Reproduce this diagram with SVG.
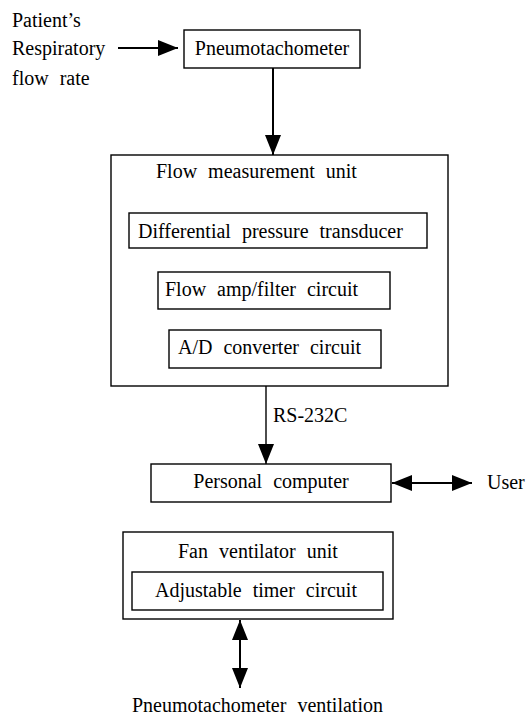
<svg xmlns="http://www.w3.org/2000/svg" width="528" height="719" viewBox="0 0 528 719">
<defs>
<style>
text{font-family:"Liberation Serif","Times New Roman",serif;font-size:20px;fill:#000;word-spacing:6px}
.box{fill:#fff;stroke:#000;stroke-width:1.4}
.ln{stroke:#000;stroke-width:2;fill:none}
.thin{stroke:#000;stroke-width:1.4;fill:none}
</style>
<marker id="ah" viewBox="0 0 20 16" refX="20" refY="8" markerWidth="20" markerHeight="16" markerUnits="userSpaceOnUse" orient="auto-start-reverse">
<path d="M0,0 L20,8 L0,16 Z" fill="#000"/>
</marker>
</defs>
<rect width="528" height="719" fill="#fff"/>
<g id="input-label">
<text x="12" y="27">Patient’s</text>
<text x="12" y="55">Respiratory</text>
<text x="12" y="85">flow rate</text>
</g>
<g id="pneumotachometer">
<rect class="box" x="184" y="30" width="176" height="38"/>
<text x="272" y="55" text-anchor="middle">Pneumotachometer</text>
</g>
<g id="flow-measurement-unit">
<rect class="box" x="111" y="155" width="337" height="231"/>
<text x="156" y="178">Flow measurement unit</text>
</g>
<g id="differential-pressure-transducer">
<rect class="box" x="129" y="213" width="298" height="35"/>
<text x="138" y="238">Differential pressure transducer</text>
</g>
<g id="flow-amp-filter">
<rect class="box" x="158" y="272" width="232" height="37"/>
<text x="165" y="296">Flow amp/filter circuit</text>
</g>
<g id="ad-converter">
<rect class="box" x="169" y="330" width="212" height="38"/>
<text x="178" y="354">A/D converter circuit</text>
</g>
<g id="personal-computer">
<rect class="box" x="151" y="464" width="240" height="38"/>
<text x="271" y="488" text-anchor="middle">Personal computer</text>
</g>
<g id="user">
<text x="487" y="489">User</text>
</g>
<g id="fan-ventilator-unit">
<rect class="box" x="123" y="532" width="270" height="87"/>
<text x="178" y="558">Fan ventilator unit</text>
</g>
<g id="adjustable-timer">
<rect class="box" x="132" y="572" width="251" height="38"/>
<text x="155" y="597">Adjustable timer circuit</text>
</g>
<g id="ventilation-label">
<text x="132" y="712">Pneumotachometer ventilation</text>
</g>
<g id="connectors">
<line class="ln" x1="118" y1="48" x2="178" y2="48" marker-end="url(#ah)"/>
<line class="ln" x1="273" y1="68" x2="273" y2="155" marker-end="url(#ah)"/>
<line class="thin" x1="266" y1="386" x2="266" y2="464" marker-end="url(#ah)"/>
<text x="273" y="422" style="word-spacing:0">RS-232C</text>
<line class="ln" x1="392" y1="483" x2="472" y2="483" marker-start="url(#ah)" marker-end="url(#ah)"/>
<line class="ln" x1="240" y1="620" x2="240" y2="688" marker-start="url(#ah)" marker-end="url(#ah)"/>
</g>
</svg>
